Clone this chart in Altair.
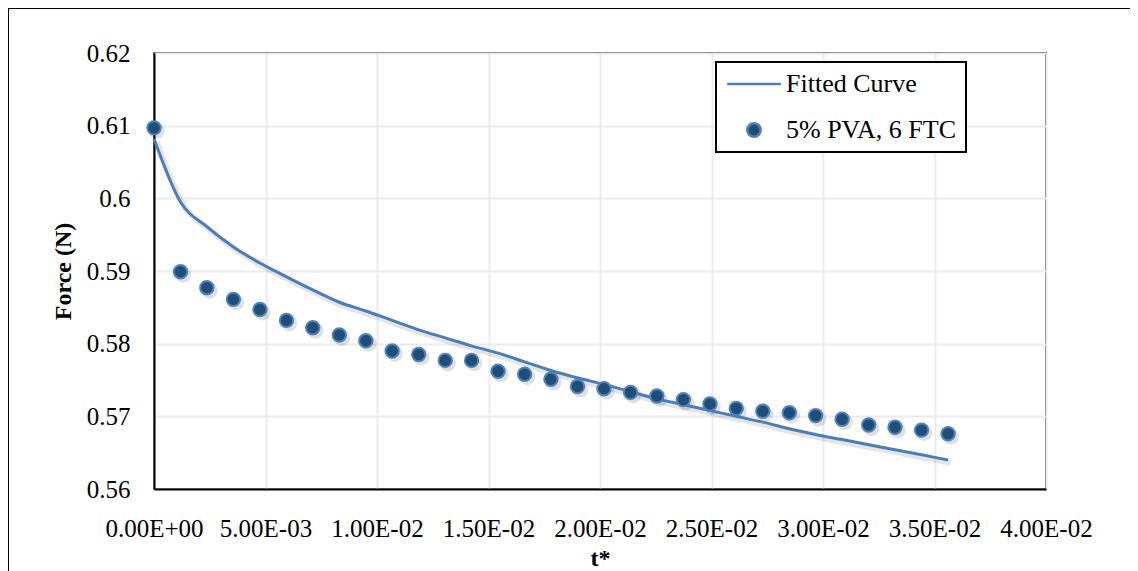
import altair as alt
import pandas as pd

# ---------------- data ----------------
t_star = [0.0, 0.00119, 0.00237, 0.00356, 0.00475, 0.00594, 0.00712, 0.00831,
          0.0095, 0.01068, 0.01187, 0.01306, 0.01424, 0.01543, 0.01662, 0.0178,
          0.01899, 0.02018, 0.02137, 0.02255, 0.02374, 0.02493, 0.02611, 0.0273,
          0.02849, 0.02967, 0.03086, 0.03205, 0.03323, 0.03442, 0.03561]

force_measured = [0.6097, 0.5899, 0.5877, 0.5861, 0.5847, 0.5832, 0.5822, 0.5812,
                  0.5804, 0.5790, 0.5785, 0.5777, 0.5777, 0.5762, 0.5758, 0.5751,
                  0.5741, 0.5738, 0.5733, 0.5728, 0.5723, 0.5717, 0.5711, 0.5707,
                  0.5705, 0.5701, 0.5696, 0.5688, 0.5685, 0.5681, 0.5676]

force_fitted = [0.6082, 0.5995, 0.5961, 0.5933, 0.5911, 0.5892, 0.5874, 0.5857,
                0.5845, 0.5832, 0.5819, 0.5808, 0.5797, 0.5787, 0.5775, 0.5763,
                0.5753, 0.5744, 0.5734, 0.5724, 0.5716, 0.5708, 0.5700, 0.5692,
                0.5683, 0.5675, 0.5668, 0.5661, 0.5654, 0.5647, 0.5640]

series_names = ["Fitted Curve", "5% PVA, 6 FTC"]

x_tick_values = [0.0, 0.005, 0.01, 0.015, 0.02, 0.025, 0.03, 0.035, 0.04]
x_tick_labels = ["0.00E+00", "5.00E-03", "1.00E-02", "1.50E-02", "2.00E-02",
                 "2.50E-02", "3.00E-02", "3.50E-02", "4.00E-02"]
y_tick_values = [0.56, 0.57, 0.58, 0.59, 0.60, 0.61, 0.62]

# ---------------- chart ----------------
FONT = "Liberation Serif"
LINE_COLOR = "#4A7EBB"
PT_FILL = "#1F4E79"
PT_RIM = "#4F81BD"

df_fit = pd.DataFrame({"t": t_star, "force": force_fitted, "series": series_names[0]})
df_pts = pd.DataFrame({"t": t_star, "force": force_measured, "series": series_names[1]})

label_array = "[" + ",".join("'%s'" % s for s in x_tick_labels) + "]"
x_label_expr = label_array + "[round(datum.value / 0.005)]"

x_scale = alt.Scale(domain=[0, 0.04], nice=False, zero=False)
y_scale = alt.Scale(domain=[0.56, 0.62], nice=False, zero=False)

x_enc = alt.X(
    "t:Q", scale=x_scale,
    axis=alt.Axis(values=x_tick_values, labelExpr=x_label_expr, title="t*",
                  labelFontSize=25, labelBaseline="alphabetic", labelPadding=47,
                  titleFontSize=24, titleFontWeight="bold",
                  titleBaseline="alphabetic", titleY=76, labelFlush=False,
                  labelOverlap=False),
)
y_enc = alt.Y(
    "force:Q", scale=y_scale,
    axis=alt.Axis(values=y_tick_values, format=".2~f", title="Force (N)",
                  labelFontSize=25, labelPadding=24,
                  titleFontSize=24, titleFontWeight="bold",
                  titleX=-91, titleY=218, titleBaseline="middle",
                  titleAngle=270, labelFlush=False, labelOverlap=False),
)

# outer chart frame (top and left edges, as in the reference picture)
frame_df = pd.DataFrame({"k": [0]})
frame_top = alt.Chart(frame_df).mark_rule(color="black", strokeWidth=2).encode(
    x=alt.value(-146), x2=alt.value(1000), y=alt.value(-45))
frame_left = alt.Chart(frame_df).mark_rule(color="black", strokeWidth=2).encode(
    x=alt.value(-146), y=alt.value(-45), y2=alt.value(560))

# soft drop shadows (Excel style), small offset down-right
line_shadow = alt.Chart(df_fit).transform_calculate(
    ts="datum.t + 0.00012", fs="datum.force - 0.0004"
).mark_line(color="#000000", opacity=0.10, strokeWidth=6, interpolate="monotone").encode(
    x=alt.X("ts:Q", scale=x_scale), y=alt.Y("fs:Q", scale=y_scale))

pts_shadow = alt.Chart(df_pts).transform_calculate(
    ts="datum.t + 0.00012", fs="datum.force - 0.0004"
).mark_circle(color="#000000", opacity=0.12, size=260).encode(
    x=alt.X("ts:Q", scale=x_scale), y=alt.Y("fs:Q", scale=y_scale))

line = alt.Chart(df_fit).mark_line(
    color=LINE_COLOR, strokeWidth=3, interpolate="monotone"
).encode(x=x_enc, y=y_enc)

legend = alt.Legend(title=None, orient="none", legendX=562, legendY=9,
                    padding=9, strokeColor="black", fillColor="white",
                    labelFont=FONT, labelFontSize=26, labelColor="black",
                    labelLimit=400, symbolOffset=16, labelOffset=19,
                    symbolSize=180, symbolStrokeWidth=2.5, rowPadding=20)

# legend symbol for the fitted curve: a short horizontal stroke path
stroke_path = "M-4,0L4,0"

pts = alt.Chart(df_pts).mark_point(filled=True, opacity=1, strokeWidth=2, size=180).encode(
    x="t:Q",
    y="force:Q",
    fill=alt.Fill("series:N", scale=alt.Scale(domain=series_names, range=[LINE_COLOR, PT_FILL]), legend=legend),
    stroke=alt.Stroke("series:N", scale=alt.Scale(domain=series_names, range=[LINE_COLOR, PT_RIM]), legend=legend),
    shape=alt.Shape("series:N", scale=alt.Scale(domain=series_names, range=[stroke_path, "circle"]), legend=legend),
)

chart = alt.layer(frame_top, frame_left, line_shadow, pts_shadow, line, pts).properties(
    width=892, height=436,
    padding={"left": 146, "top": 45, "right": 84, "bottom": 82},
    autosize=alt.AutoSizeParams(type="none"),
    background="white",
).configure_view(
    stroke="black", strokeWidth=1.5
).configure_axis(
    labelFont=FONT, titleFont=FONT, labelColor="black", titleColor="black",
    gridColor="#EBEBEB", gridWidth=2, domainColor="black", domainWidth=2,
    ticks=False,
).configure_legend(strokeWidth=2)

chart.save("out.html", embed_options={"renderer": "svg", "actions": False})
